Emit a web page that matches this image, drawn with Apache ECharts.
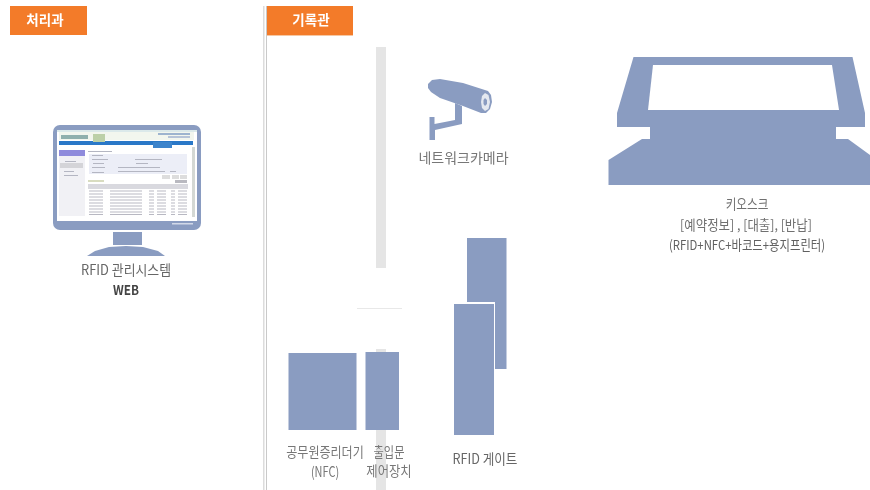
<!DOCTYPE html>
<html><head><meta charset="utf-8">
<style>html,body{margin:0;padding:0;background:#fff}#c{width:870px;height:490px}</style>
<script src="https://cdn.jsdelivr.net/npm/echarts@6/dist/echarts.min.js"></script></head>
<body><div id="c"></div>
<script>
const BLUE='#8a9cc1', ORANGE='#f37b29', GREY='#e5e5e5';
// [x0,y0,x1,y1,colour]
const rects=[
 [10,6,87,35,ORANGE],[267,6,353,35,ORANGE],[267,35,353,36,'#f6c7a2'],
 [263,6,264.5,490,'#dcdcdc'],[266,6,267,490,'#c9c9c9'],
 [376,47,386,268,GREY],[376,349,386,352,GREY],[376,430,386,490,GREY],
 [357,308,402,309,'#e8e8e8'],
 [288.5,353,356.5,430,BLUE],[365.5,352,399,430,BLUE],
 [467,238,506.5,369,BLUE],[453,302,495,435,'#ffffff'],[454,304,494,435,BLUE],
 [113,232,142,245,BLUE]
];
const kiosk=[[633.5,57],[852.5,57],[865,113],[865,127],[836,127],[836,139],[848,139],[870,155],[870,185],[608.5,185],[608.5,160],[642,139],[650,139],[650,127],[617,127],[617,113]];
const kioskScreen=[[653,65],[832,65],[839,110],[648,110]];
const standBase=[[87,256],[165,256],[158,251],[143,247],[126,246],[109,247],[95,251]];
const cameraBody=[[428,84],[432,80],[440,79],[463,83],[488,91],[491,95],[492,102],[490,109],[486,113],[481,113],[463,106],[440,98],[431,92],[428,88]];
const cameraArm=[[455,103],[462,106],[462,124],[435,130],[435,140],[429.5,140],[429.5,117],[434.5,117],[434.5,124],[455,120]];
const cameraLens=[[485,93],[488.5,95],[490,102],[488.5,109],[485,111],[482,108],[481,102],[482,96]];
const cameraCore=[[485,98],[487,100],[487,104],[485,106],[483.5,104],[483.5,100]];
// monitor
const bezel=[53,125,201,230];
const screen=[57,130,197,221];
const ui=[
 [59,132,194,140,'#f2f6ee'],[59,141,193,145,'#2a78c8'],[153,142,172,148,'#3d84cc'],
 [59,150,85,156,'#8f8bdc'],[59,156,85,216,'#f1f1f5'],[60,163,83,168,'#d4d4d8'],
 [61,135,88,139,'#8fb0ad'],[93,134,105,142,'#bcd0a8'],
 [158,133,190,135,'#9db4cf'],[168,136,190,138,'#b6c4d8'],
 [89,154,187,174,'#eceef7'],[162,175,170,179,'#dddddd'],[172,175,179,179,'#dddddd'],[180,175,187,179,'#dddddd'],
 [88,184,188,189,'#d9d9df'],[88,180,104,182,'#d8dcc0'],[175,180,187,183,'#b9b9c0'],
 [192,147,195,217,'#d4d8d4'],[57,130,197,132,'#dbe9ea']
];
const uiLines=[[88,151,112],[92,155,103],[92,159,108],[93,163,104],[92,167,105],[92,172,104],
 [135,159,162],[136,163,148],[118,167,160],[118,171,165],[170,171,176],[65,161,76],[64,171,74],[64,175,78]];
const tableRows=[190.5,193.5,196.5,199.5,202.5,205.5,208.5,211.5,214];
const tableCols=[[89,103],[110,142],[149,154],[157,166],[171,175],[178,187]];
// [x,y,text,size,colour,weight,scaleX]
const texts=[
 [45,20,'처리과',13.5,'#ffffff','bold',1],[311,20,'기록관',13.5,'#ffffff','bold',1],
 [126,270,'RFID 관리시스템',14,'#666666','normal',.92],[126,290,'WEB',13.5,'#444444','bold',.87],
 [463.5,158,'네트워크카메라',14,'#777777','normal',1],
 [747,204,'키오스크',13.5,'#707070','normal',.86],[746,225,'[예약정보] , [대출], [반납]',13.5,'#707070','normal',.92],[747,245,'(RFID+NFC+바코드+용지프린터)',13.5,'#606060','normal',.84],
 [325,452,'공무원증리더기',14,'#777777','normal',.86],[325,472,'(NFC)',14,'#777777','normal',.78],
 [389,452,'출입문',14,'#777777','normal',.8],[389,471,'제어장치',14,'#777777','normal',.88],
 [485,459,'RFID 게이트',14,'#666666','normal',.9]
];
const FONT='"Noto Sans CJK KR","Noto Sans",sans-serif';
function box(api,r,fill,rad){
 const a=api.coord([r[0],r[1]]),b=api.coord([r[2],r[3]]);
 return {type:'rect',shape:{x:a[0],y:a[1],width:b[0]-a[0],height:b[1]-a[1],r:rad||0},style:{fill:fill}};
}
function poly(api,pts,fill,smooth){return {type:'polygon',shape:{points:pts.map(p=>api.coord(p)),smooth:smooth||0},style:{fill:fill}};}
function render(params,api){
 const ch=[];
 rects.forEach(r=>ch.push(box(api,r,r[4])));
 ch.push(box(api,bezel,BLUE,7));
 ch.push(box(api,screen,'#ffffff'));
 ch.push(box(api,[172,223,193,224.5],'#d2d9e8'));
 ui.forEach(r=>ch.push(box(api,r,r[4])));
 tableRows.forEach(y=>tableCols.forEach(c=>ch.push(box(api,[c[0],y,c[1],y+1],'#b8b8c2'))));
 uiLines.forEach(l=>ch.push(box(api,[l[0],l[1],l[2],l[1]+1],'#b4b6c2')));
 ch.push(poly(api,standBase,BLUE,0));
 ch.push(poly(api,kiosk,BLUE));
 ch.push(poly(api,kioskScreen,'#ffffff'));
 ch.push(poly(api,cameraArm,BLUE));
 ch.push(poly(api,cameraBody,BLUE));
 ch.push(poly(api,cameraLens,'#e4e8f0'));
 ch.push(poly(api,cameraCore,BLUE));
 texts.forEach(t=>{
  const p=api.coord([t[0],t[1]]);
  ch.push({type:'text',x:p[0],y:p[1],scaleX:t[6],style:{x:0,y:0,text:t[2],fontSize:t[3],fill:t[4],fontWeight:t[5],fontFamily:FONT,align:'center',verticalAlign:'middle'}});
 });
 return {type:'group',children:ch};
}
const chart=echarts.init(document.getElementById('c'),null,{renderer:'canvas'});
chart.setOption({
 animation:false,backgroundColor:'#fff',
 grid:{left:0,right:0,top:0,bottom:0},
 xAxis:{type:'value',min:0,max:870,show:false},
 yAxis:{type:'value',min:0,max:490,inverse:true,show:false},
 series:[{type:'custom',coordinateSystem:'cartesian2d',data:[[0,0]],renderItem:render,silent:true,clip:false}]
});
</script></body></html>
